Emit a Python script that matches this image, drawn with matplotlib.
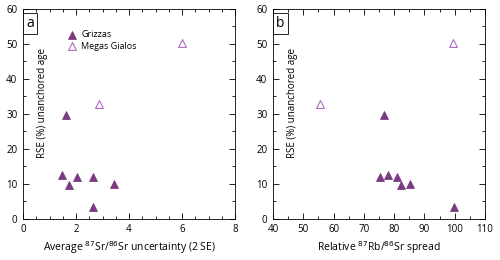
import matplotlib
matplotlib.use('Agg')
from matplotlib import pyplot as plt
from matplotlib.ticker import MultipleLocator

plt.rcParams['font.family'] = ['Open Sans', 'DejaVu Sans']

# Grizzas (filled triangles)
griz_rse = [29.6, 12.5, 9.8, 11.9, 11.9, 10.0, 3.4]
griz_unc = [1.62, 1.47, 1.72, 2.03, 2.63, 3.45, 2.65]
griz_spread = [76.8, 78.1, 82.4, 75.4, 81.0, 85.4, 99.8]

# Megas Gialos (open triangles)
megas_rse = [32.7, 50.3]
megas_unc = [2.85, 6.0]
megas_spread = [55.5, 99.3]

fill_c = '#7b3a82'
open_c = '#b36cc4'

fig = plt.figure(figsize=(5, 2.6), dpi=100)
ax1 = fig.add_axes([0.046, 0.158, 0.424, 0.808])
ax2 = fig.add_axes([0.546, 0.158, 0.424, 0.808])

panels = [
    (ax1, griz_unc, megas_unc, (0, 8), 2, 0.5, 'a',
     'Average $^{87}$Sr/$^{86}$Sr uncertainty (2 SE)'),
    (ax2, griz_spread, megas_spread, (40, 110), 10, 5, 'b',
     'Relative $^{87}$Rb/$^{86}$Sr spread'),
]

for ax, gx, mx, xlim, major, minor, tag, xlabel in panels:
    ax.scatter(gx, griz_rse, marker='^', s=32, c=fill_c, edgecolors=fill_c,
               linewidths=0.6, label='Grizzas', zorder=3)
    ax.scatter(mx, megas_rse, marker='^', s=32, facecolors='white',
               edgecolors=open_c, linewidths=0.8, label='Megas Gialos', zorder=3)
    ax.set_xlim(xlim)
    ax.set_ylim(0, 60)
    ax.xaxis.set_major_locator(MultipleLocator(major))
    ax.xaxis.set_minor_locator(MultipleLocator(minor))
    ax.yaxis.set_major_locator(MultipleLocator(10))
    ax.yaxis.set_minor_locator(MultipleLocator(5))
    ax.tick_params(which='both', direction='in', top=True, right=True,
                   labelsize=7, width=0.6)
    ax.tick_params(which='major', length=4, pad=4)
    ax.tick_params(which='minor', length=2)
    for s in ax.spines.values():
        s.set_linewidth(0.6)
    ax.set_xlabel(xlabel, fontsize=7.5, labelpad=3)
    ax.text(0.09, 0.55, 'RSE (%) unanchored age', rotation=90,
            transform=ax.transAxes, ha='center', va='center', fontsize=7)
    ax.text(0.035, 0.965, tag, transform=ax.transAxes, ha='center', va='top',
            fontsize=10,
            bbox=dict(boxstyle='square,pad=0.22', fc='white', ec='black', lw=0.6))

ax1.legend(loc='upper left', bbox_to_anchor=(0.17, 0.915), frameon=False,
           fontsize=6.5, handletextpad=0.05, borderaxespad=0, labelspacing=0.25,
           scatterpoints=1)

fig.savefig('out.png', dpi=100)
